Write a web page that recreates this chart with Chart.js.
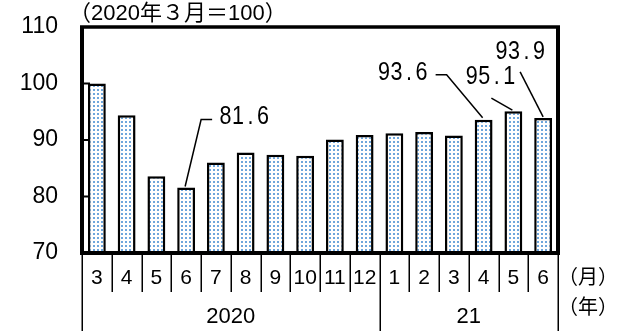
<!DOCTYPE html>
<html>
<head>
<meta charset="utf-8">
<script src="https://cdn.jsdelivr.net/npm/chart.js@4"></script>
<style>
    body { margin: 0; background: #fff; }
</style>
</head>
<body>
<canvas id="indexChart" width="625" height="331"></canvas>
<script>
// Mesečne vrednosti indeksa (mart 2020 = 100)
const months = ['3', '4', '5', '6', '7', '8', '9', '10', '11', '12', '1', '2', '3', '4', '5', '6'];
const values = [100, 94.4, 83.6, 81.6, 86.0, 87.8, 87.4, 87.2, 90.1, 90.9, 91.2, 91.4, 90.8, 93.6, 95.1, 93.9];
const years = ['2020', '21'];
const yearStart = [0, 10]; // prvi mesec svake godine
const yTicks = [70, 80, 90, 100, 110];

// Oznake sa vrednostima i linijama do stubova
const callouts = [3, 13, 14, 15];
const calloutStyle = {
    3:  { line: [[-1, -1], [15, -68], [26, -68]], tx: 33,  ty: -70 },
    13: { line: [[-1, -2], [-37, -45], [-48, -45]], tx: -106, ty: -47 },
    14: { line: [[-1, -1], [-22, -13]], tx: -48, ty: -34 },
    15: { line: [[0, -1], [-23, -46]], tx: -48, ty: -66 }
};

// Tačkasti uzorak za stubove
function dotPattern() {
    const c = document.createElement('canvas');
    c.width = 4; c.height = 4;
    const g = c.getContext('2d');
    g.fillStyle = '#fff';
    g.fillRect(0, 0, 4, 4);
    g.fillStyle = '#6ea6dc';
    g.fillRect(1, 1, 2, 2);
    return g.createPattern(c, 'repeat');
}

function monoText(ctx, text, x, y) {
    const pitch = 12.5;
    ctx.save();
    ctx.font = '25px "Liberation Sans"';
    ctx.textAlign = 'center';
    ctx.textBaseline = 'middle';
    [...text].forEach((ch, i) => {
        const cx = x + pitch * i + pitch / 2;
        ctx.save();
        ctx.translate(cx, y);
        ctx.scale(0.86, 1);
        ctx.fillText(ch, 0, 0);
        ctx.restore();
    });
    ctx.restore();
}

const decor = {
    id: 'decor',
    afterDatasetsDraw(chart) {
        const ctx = chart.ctx;
        const area = chart.chartArea;
        const xs = chart.scales.x;
        const ys = chart.scales.y;
        const n = months.length;
        const edge = i => {
            if (i === 0) return area.left;
            if (i === n) return area.right;
            return (xs.getPixelForValue(i - 1) + xs.getPixelForValue(i)) / 2;
        };

        ctx.save();
        ctx.strokeStyle = '#000';
        ctx.lineCap = 'butt';

        // unutrašnje crtice na y osi
        ctx.lineWidth = 2;
        yTicks.slice(1, -1).forEach(v => {
            const y = ys.getPixelForValue(v);
            ctx.beginPath();
            ctx.moveTo(area.left, y);
            ctx.lineTo(area.left + 8, y);
            ctx.stroke();
        });

        // okvir
        ctx.lineWidth = 4;
        ctx.beginPath();
        ctx.moveTo(area.left, area.bottom);
        ctx.lineTo(area.right, area.bottom);
        ctx.moveTo(area.left, area.top - 1);
        ctx.lineTo(area.left, area.bottom + 2);
        ctx.moveTo(area.right, area.top - 1);
        ctx.lineTo(area.right, area.bottom + 2);
        ctx.stroke();
        ctx.lineWidth = 3.5;
        ctx.beginPath();
        ctx.moveTo(area.left - 2, area.top);
        ctx.lineTo(area.right + 2, area.top);
        ctx.stroke();

        // pregrade meseci i godina
        ctx.lineWidth = 1.5;
        for (let i = 0; i <= n; i++) {
            const x = Math.round(edge(i)) + 0.25;
            const full = i === n || yearStart.includes(i);
            ctx.beginPath();
            ctx.moveTo(x, area.bottom);
            ctx.lineTo(x, full ? chart.height : 292);
            ctx.stroke();
        }

        // godine
        ctx.fillStyle = '#000';
        ctx.font = '22px "Liberation Sans"';
        ctx.textAlign = 'center';
        ctx.textBaseline = 'middle';
        years.forEach((label, k) => {
            const from = edge(yearStart[k]);
            const to = edge(k + 1 < yearStart.length ? yearStart[k + 1] : n);
            ctx.fillText(label, (from + to) / 2, 317);
        });

        // jedinice i naslov
        ctx.textAlign = 'left';
        ctx.font = '22px "Liberation Sans", "Noto Sans CJK JP"';
        ctx.fillText('（2020年３月＝100）', 69, 14);
        ctx.font = '20px "Liberation Sans", "Noto Sans CJK JP"';
        ctx.fillText('（月）', 558, 278);
        ctx.fillText('（年）', 558, 308);

        // vrednosti sa linijama
        ctx.lineWidth = 1.5;
        callouts.forEach(i => {
            const st = calloutStyle[i];
            const bx = xs.getPixelForValue(i);
            const by = ys.getPixelForValue(values[i]);
            ctx.beginPath();
            st.line.forEach(([dx, dy], k) => {
                if (k === 0) ctx.moveTo(bx + dx, by + dy);
                else ctx.lineTo(bx + dx, by + dy);
            });
            ctx.stroke();
            monoText(ctx, values[i].toFixed(1), bx + st.tx, by + st.ty);
        });

        ctx.restore();
    }
};

const ctx = document.getElementById('indexChart').getContext('2d');
const indexChart = new Chart(ctx, {
    type: 'bar',
    data: {
        labels: months,
        datasets: [{
            data: values,
            backgroundColor: dotPattern(),
            borderColor: '#000',
            borderWidth: 2.5,
            borderSkipped: 'bottom',
            barPercentage: 0.6,
            categoryPercentage: 1.0
        }]
    },
    options: {
        responsive: false,
        animation: false,
        devicePixelRatio: 1,
        layout: { padding: { top: 27, right: 67, left: 0, bottom: 0 } },
        plugins: {
            legend: { display: false },
            tooltip: { enabled: false }
        },
        scales: {
            x: {
                grid: { display: false, drawTicks: false },
                border: { display: false },
                ticks: {
                    color: '#000',
                    padding: 13,
                    maxRotation: 0,
                    autoSkip: false,
                    font: { family: 'Liberation Sans', size: 21 }
                },
                afterFit: s => {
                    s.height = 78;
                    s.paddingLeft = 0;
                    s.paddingRight = 0;
                }
            },
            y: {
                min: 70,
                max: 110,
                grid: { display: false, drawTicks: false },
                border: { display: false },
                ticks: {
                    stepSize: 10,
                    color: '#000',
                    padding: 24,
                    font: { family: 'Liberation Sans', size: 23 }
                },
                afterFit: s => {
                    s.width = 82;
                    s.paddingTop = 0;
                    s.paddingBottom = 0;
                }
            }
        }
    },
    plugins: [decor]
});
</script>
</body>
</html>
